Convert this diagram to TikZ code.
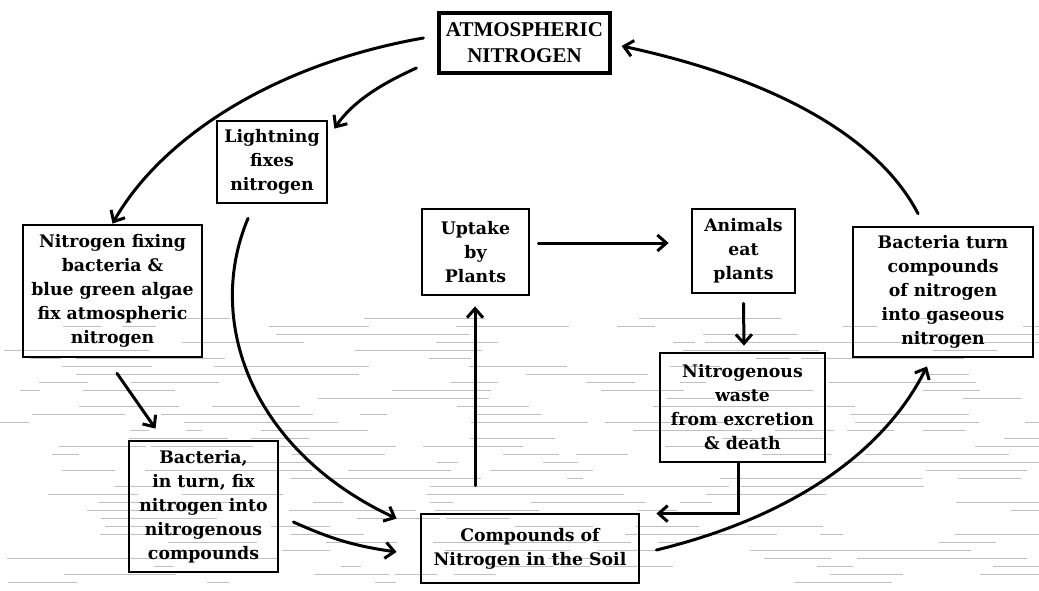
\documentclass[tikz,border=0pt]{standalone}
\usepackage{fontspec}
\setmainfont{DejaVu Serif}
\newfontfamily\capsfont{Liberation Serif}
\usetikzlibrary{arrows.meta}
\begin{document}
\begin{tikzpicture}[x=1pt,y=-1pt,
  box/.style={draw, line width=2.8pt, align=center, inner sep=0pt,
    font=\bfseries\fontsize{17.3}{24}\selectfont},
  arr/.style={line width=3pt, line cap=round, -{Straight Barb[length=9pt,width=16pt]}},
  texture/.style={gray!50, line width=1pt}]
\useasboundingbox (0,0) rectangle (1039,590);
\begin{scope}
\clip (0,0) rectangle (1039,590);
\pgfmathsetseed{7}
\foreach \r in {0,...,33}{
  \foreach \k in {1,...,8}{
    \pgfmathsetmacro\xa{rnd*1039}
    \pgfmathsetmacro\len{15+rnd*110}
    \draw[texture] (\xa,{318+8*\r}) -- ++(\len,0);
  }
}
\end{scope}

\node[box, line width=3.2pt, minimum width=171pt, minimum height=60pt,
  font=\capsfont\bfseries\fontsize{21}{26}\selectfont] (atm) at (524.5,43) {ATMOSPHERIC\\NITROGEN};
\node[box, minimum width=110pt, minimum height=82pt] (light) at (272,162) {Lightning\\fixes\\nitrogen};
\node[box, minimum width=179pt, minimum height=132pt] (nfix) at (112.5,291) {Nitrogen fixing\\bacteria \&\\blue green algae\\fix atmospheric\\nitrogen};
\node[box, minimum width=107pt, minimum height=86pt] (uptake) at (475.5,252) {Uptake\\by\\Plants};
\node[box, minimum width=103pt, minimum height=84pt] (animals) at (743.5,251) {Animals\\eat\\plants};
\node[box, minimum width=180pt, minimum height=130pt] (bturn) at (943,292) {Bacteria turn\\compounds\\of nitrogen\\into gaseous\\nitrogen};
\node[box, minimum width=165pt, minimum height=109pt] (waste) at (742.5,407.5) {Nitrogenous\\waste\\from excretion\\\& death};
\node[box, minimum width=149pt, minimum height=131pt] (bfix) at (203.5,506.5) {Bacteria,\\in turn, fix\\nitrogen into\\nitrogenous\\compounds};
\node[box, minimum width=218pt, minimum height=69pt] (soil) at (530,548.5) {Compounds of\\Nitrogen in the Soil};

% atmospheric -> nitrogen fixing bacteria
\draw[arr] ([xshift=-14pt,yshift=5pt]atm.west) .. controls (270,65) and (160,140) .. (nfix.north);
% atmospheric -> lightning
\draw[arr] ([xshift=-21pt,yshift=-25pt]atm.west) .. controls (390,80) and (355,98) .. ([xshift=6pt,yshift=-9pt]light.north east);
% lightning -> soil
\draw[arr] ([xshift=-24pt,yshift=-14pt]light.south) .. controls (205,320) and (250,450) .. ([xshift=-23pt,yshift=-6pt]soil.north west);
% nitrogen fixing -> bacteria in turn
\draw[arr] ([xshift=4.5pt,yshift=-15pt]nfix.south) -- ([xshift=-48pt,yshift=11pt]bfix.north);
% bacteria in turn -> soil
\draw[arr] ([xshift=14pt,yshift=-15.5pt]bfix.east) to[bend right=8] ([xshift=-23pt,yshift=-3.5pt]soil.west);
% soil -> uptake
\draw[arr] ([xshift=-55pt,yshift=27pt]soil.north) -- ([xshift=-0.5pt,yshift=-10pt]uptake.south);
% uptake -> animals
\draw[arr] ([xshift=8pt,yshift=9pt]uptake.east) -- ([xshift=-22pt,yshift=8pt]animals.west);
% animals -> waste
\draw[arr] ([yshift=-9pt]animals.south) -- ([xshift=1.5pt,yshift=6pt]waste.north);
% waste -> soil
\draw[arr, line cap=butt] ([xshift=-4.5pt]waste.south) |- ([xshift=16pt,yshift=-1pt]soil.north east);
% soil -> bacteria turn
\draw[arr] ([xshift=16pt,yshift=-1.5pt]soil.east) .. controls (780,520) and (880,460) .. ([xshift=-16pt,yshift=-8pt]bturn.south);
% bacteria turn -> atmospheric
\draw[arr] ([xshift=-25pt,yshift=12pt]bturn.north) .. controls (880,140) and (780,80) .. ([xshift=10pt,yshift=-3pt]atm.east);
\end{tikzpicture}
\end{document}
